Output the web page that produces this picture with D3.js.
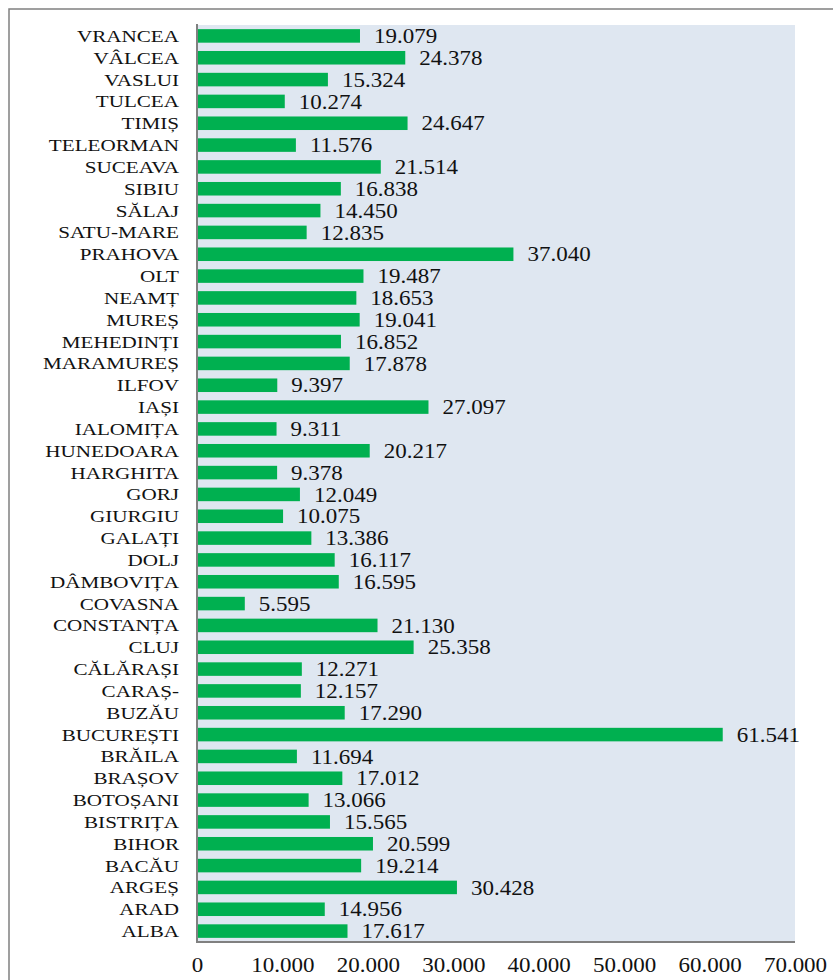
<!DOCTYPE html>
<html>
<head>
<meta charset="utf-8">
<script src="https://cdn.jsdelivr.net/npm/d3@7"></script>
<style>
  html, body { margin: 0; padding: 0; background: #fff; overflow: hidden; }
  svg { display: block; }
  text { font-family: "Liberation Serif", "Times New Roman", serif; fill: #111; }
</style>
</head>
<body>
<div id="chart"></div>
<script>
// counties, top to bottom as drawn
const judete = ["VRANCEA", "VÂLCEA", "VASLUI", "TULCEA", "TIMIȘ", "TELEORMAN", "SUCEAVA", "SIBIU",
    "SĂLAJ", "SATU-MARE", "PRAHOVA", "OLT", "NEAMȚ", "MUREȘ", "MEHEDINȚI", "MARAMUREȘ", "ILFOV",
    "IAȘI", "IALOMIȚA", "HUNEDOARA", "HARGHITA", "GORJ", "GIURGIU", "GALAȚI", "DOLJ", "DÂMBOVIȚA",
    "COVASNA", "CONSTANȚA", "CLUJ", "CĂLĂRAȘI", "CARAȘ-", "BUZĂU", "BUCUREȘTI", "BRĂILA", "BRAȘOV",
    "BOTOȘANI", "BISTRIȚA", "BIHOR", "BACĂU", "ARGEȘ", "ARAD", "ALBA"];

const valori = [19079, 24378, 15324, 10274, 24647, 11576, 21514, 16838,
    14450, 12835, 37040, 19487, 18653, 19041, 16852, 17878, 9397,
    27097, 9311, 20217, 9378, 12049, 10075, 13386, 16117, 16595,
    5595, 21130, 25358, 12271, 12157, 17290, 61541, 11694, 17012,
    13066, 15565, 20599, 19214, 30428, 14956, 17617];

const tickValues = [0, 10000, 20000, 30000, 40000, 50000, 60000, 70000];

const width = 833;
const height = 980;
const plot = { left: 197, right: 795, top: 25, bottom: 942 };

// romanian number format: 19.079
const fmt = v => d3.format(",")(v).replace(/,/g, ".");

const svg = d3.select("#chart")
    .append("svg")
    .attr("width", width)
    .attr("height", height);

// outer frame (runs past the right and bottom edge)
svg.append("rect")
    .attr("x", 9)
    .attr("y", 9)
    .attr("width", 840)
    .attr("height", 990)
    .attr("fill", "none")
    .attr("stroke", "#808080")
    .attr("stroke-width", 1.5);

const x = d3.scaleLinear()
    .domain([0, 70000])
    .range([plot.left, plot.right]);

const y = d3.scaleBand()
    .domain(judete)
    .range([plot.top, plot.bottom])
    .paddingInner(0.38)
    .paddingOuter(0.19);

svg.append("rect")
    .attr("x", plot.left)
    .attr("y", plot.top)
    .attr("width", plot.right - plot.left)
    .attr("height", plot.bottom - plot.top)
    .attr("fill", "#dfe7f1");

const data = judete.map((d, i) => ({ name: d, value: valori[i] }));

svg.selectAll(".bar")
    .data(data)
    .enter()
    .append("rect")
    .attr("class", "bar")
    .attr("x", x(0))
    .attr("y", d => y(d.name))
    .attr("width", d => x(d.value) - x(0))
    .attr("height", y.bandwidth())
    .attr("fill", "#00b050");

// value labels, a bit stretched like the original
svg.selectAll(".val")
    .data(data)
    .enter()
    .append("text")
    .attr("class", "val")
    .attr("transform", d => "translate(" + (x(d.value) + 14) + "," + (y(d.name) + y.bandwidth() / 2) + ") scale(1.15,1)")
    .attr("dy", "0.36em")
    .style("font-size", "20px")
    .text(d => fmt(d.value));

// category labels
svg.selectAll(".cat")
    .data(data)
    .enter()
    .append("text")
    .attr("class", "cat")
    .attr("transform", d => "translate(179," + (y(d.name) + y.bandwidth() / 2) + ") scale(1.28,1)")
    .attr("dy", "0.36em")
    .attr("text-anchor", "end")
    .style("font-size", "16.5px")
    .text(d => d.name);

// axis lines
svg.append("line")
    .attr("x1", plot.left).attr("x2", plot.left)
    .attr("y1", plot.top - 1).attr("y2", plot.bottom + 1)
    .attr("stroke", "#808080")
    .attr("stroke-width", 2);

svg.append("line")
    .attr("x1", plot.left).attr("x2", plot.right)
    .attr("y1", plot.bottom).attr("y2", plot.bottom)
    .attr("stroke", "#808080")
    .attr("stroke-width", 2);

// x tick labels, no tick marks
const xAxis = d3.axisBottom(x)
    .tickValues(tickValues)
    .tickSize(0)
    .tickPadding(0)
    .tickFormat(fmt);

const gx = svg.append("g")
    .attr("transform", "translate(0," + (plot.bottom + 20) + ")")
    .call(xAxis);
gx.select(".domain").remove();
gx.selectAll("text")
    .attr("y", 0)
    .attr("dy", "0.5em")
    .attr("transform", function () {
        const tx = d3.select(this.parentNode).attr("transform");
        return "scale(1.15,1)";
    })
    .attr("x", 0)
    .style("font-size", "20px")
    .style("font-family", "'Liberation Serif', serif")
    .attr("fill", "#111");
</script>
</body>
</html>
